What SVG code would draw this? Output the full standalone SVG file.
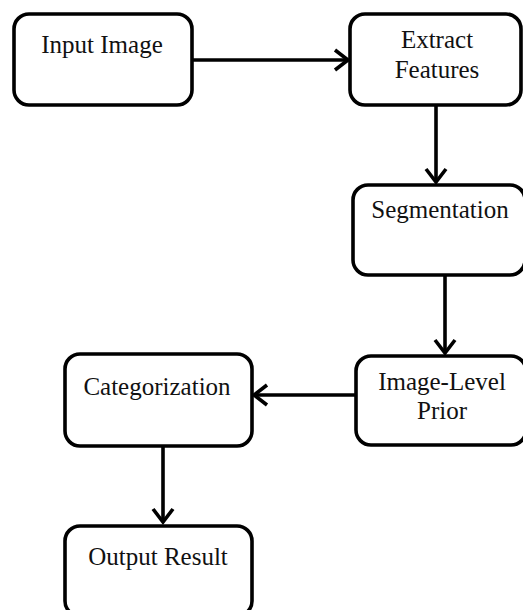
<svg xmlns="http://www.w3.org/2000/svg" width="523" height="610" viewBox="0 0 523 610">
<style>
.box{fill:#fff;stroke:#000;stroke-width:3.6}
.lbl{font-family:"Liberation Serif","Times New Roman",serif;font-size:25px;fill:#111;text-anchor:middle}
.conn{stroke:#000;stroke-width:3.6;fill:none;marker-end:url(#arr)}
</style>
<defs>
<marker id="arr" markerUnits="userSpaceOnUse" markerWidth="24" markerHeight="26" viewBox="-18 -13 22 26" refX="0" refY="0" orient="auto">
<path d="M-13,-10 L0,0 L-13,10" fill="none" stroke="#000" stroke-width="3.6" stroke-linejoin="miter"/>
</marker>
</defs>
<rect width="523" height="610" fill="#fff"/>
<g id="connectors">
<line class="conn" x1="193" y1="60" x2="348" y2="60"/>
<line class="conn" x1="436" y1="105" x2="436" y2="182"/>
<line class="conn" x1="445" y1="275" x2="445" y2="353"/>
<line class="conn" x1="355" y1="395" x2="254" y2="395"/>
<line class="conn" x1="163" y1="446" x2="163" y2="522"/>
</g>
<g id="input-image">
<rect class="box" x="14" y="14" width="178" height="91" rx="15"/>
<text class="lbl" x="102" y="53">Input Image</text>
</g>
<g id="extract-features">
<rect class="box" x="350" y="14" width="171" height="91" rx="15"/>
<text class="lbl" x="437" y="48">Extract</text>
<text class="lbl" x="437" y="78">Features</text>
</g>
<g id="segmentation">
<rect class="box" x="353" y="185" width="172" height="90" rx="15"/>
<text class="lbl" x="440" y="218">Segmentation</text>
</g>
<g id="image-level-prior">
<rect class="box" x="356" y="356" width="170" height="89" rx="15"/>
<text class="lbl" x="442" y="390">Image-Level</text>
<text class="lbl" x="442" y="419">Prior</text>
</g>
<g id="categorization">
<rect class="box" x="65" y="354" width="187" height="92" rx="15"/>
<text class="lbl" x="157" y="395">Categorization</text>
</g>
<g id="output-result">
<rect class="box" x="65" y="526" width="187" height="90" rx="15"/>
<text class="lbl" x="158" y="565">Output Result</text>
</g>
</svg>
